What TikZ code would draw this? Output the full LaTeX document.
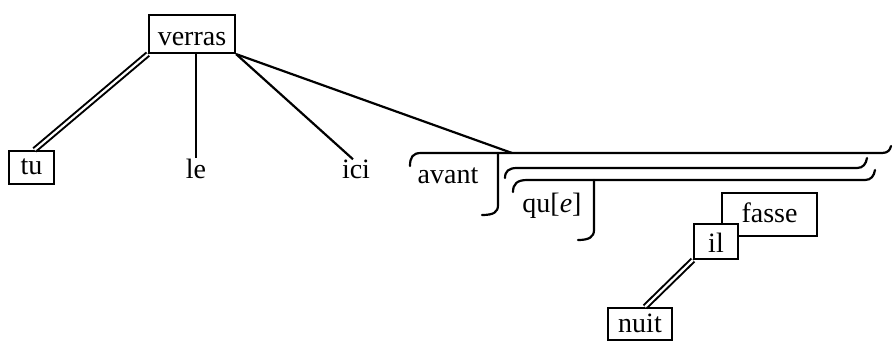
\documentclass[tikz,border=0pt]{standalone}
\usepackage{fontspec}
\setmainfont{Liberation Serif}
\begin{document}
\begin{tikzpicture}[x=1pt,y=-1pt,
  every node/.style={font=\fontsize{28}{32}\selectfont},
  wordbox/.style={draw,line width=2.2pt,fill=white,inner sep=0pt,anchor=base},
  word/.style={inner sep=2pt,anchor=base},
  edge/.style={line width=2.2pt},
  dbl/.style={line width=2pt,double,double distance=2.2pt},
  bracket/.style={line width=2.2pt,line cap=round}]
\useasboundingbox (0,0) rectangle (893,341);

% words of the main clause
\node[wordbox,minimum width=86pt,text height=30pt,text depth=8pt] (verras) at (192,45) {verras};
\node[wordbox,minimum width=45pt,text height=23pt,text depth=10pt] (tu) at (31.5,174) {tu};
\node[word] (le) at (196,178) {le};
\node[word] (ici) at (356,178) {ici};

% subordinate clause brackets
\coordinate (avantjoin) at (512,153);
\draw[bracket] (410,166) .. controls (410,157) and (413,153) .. (421,153)
  -- (882,153) .. controls (888,153) and (890,150) .. (891,146);
\draw[bracket] (498,153) -- (498,205) .. controls (498,212) and (494,215) .. (482,215);
\node[word] (avant) at (448,183) {avant};

\draw[bracket] (505,178) .. controls (505,171) and (509,168) .. (517,168)
  -- (857,168) .. controls (863,168) and (866,164) .. (867,158);
\draw[bracket] (513,192) .. controls (513,184) and (517,180) .. (527,180)
  -- (865,180) .. controls (871,180) and (874,176) .. (875,170);
\draw[bracket] (594,180) -- (594,230) .. controls (594,237) and (589,240) .. (578,240);
\node[word] (que) at (552,212) {qu[\textit{e}]};

% words of the subordinate clause
\node[wordbox,minimum width=95pt,text height=29pt,text depth=14pt] (fasse) at (769.5,222) {fasse};
\node[wordbox,minimum width=44pt,text height=28pt,text depth=7pt] (il) at (716,252) {il};
\node[wordbox,minimum width=64pt,text height=24pt,text depth=8pt] (nuit) at (640,332) {nuit};

% connectors
\draw[dbl] (verras.south west) -- ([xshift=3pt]tu.north);
\draw[edge] (verras.south -| le.north) -- ([yshift=-2pt]le.north);
\draw[edge] (verras.south east) -- ([xshift=-3pt,yshift=-2pt]ici.north);
\draw[edge] (verras.south east) -- (avantjoin);
\draw[dbl] (il.south west) -- ([xshift=5pt]nuit.north);
\end{tikzpicture}
\end{document}
